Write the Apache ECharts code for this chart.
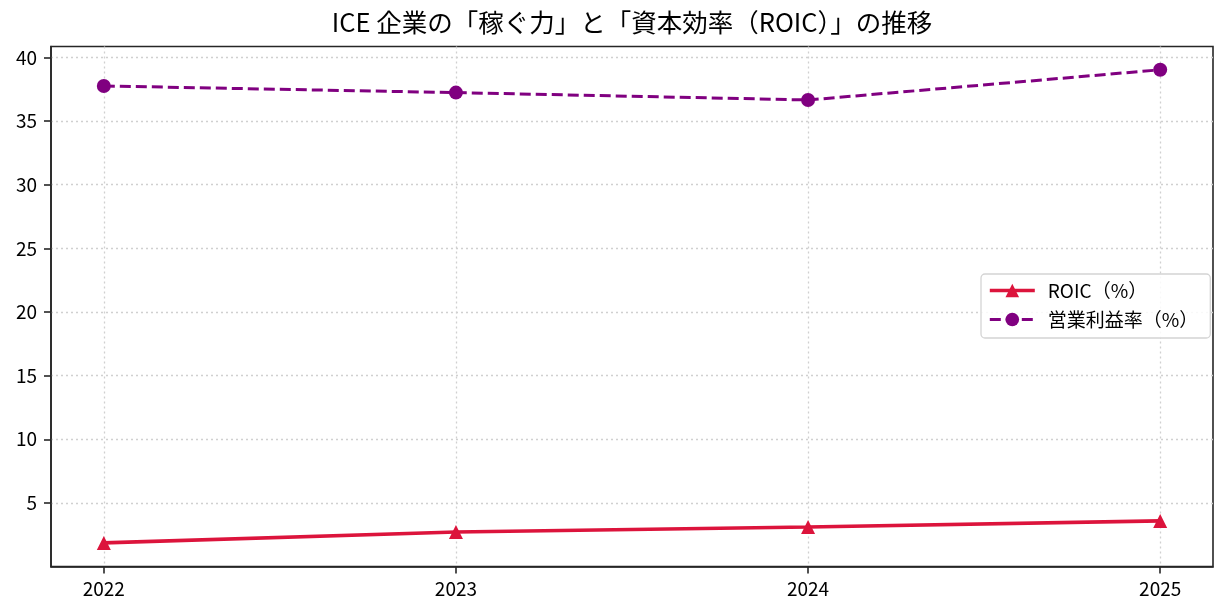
<!DOCTYPE html>
<html>
<head>
<meta charset="utf-8">
<script src="https://cdn.jsdelivr.net/npm/echarts@6/dist/echarts.min.js"></script>
<style>
  html, body { margin: 0; padding: 0; background: #fff; }
  #chart { width: 1228px; height: 616px; }
</style>
</head>
<body>
<div id="chart"></div>
<script>
// 年度
var years = [2022, 2023, 2024, 2025]
// ROIC（%）
var roic = [1.86, 2.72, 3.11, 3.59]
// 営業利益率（%）
var opMargin = [37.75, 37.23, 36.65, 39.02]
// 縦軸の目盛
var yTicks = [5, 10, 15, 20, 25, 30, 35, 40]

var font = '"Noto Sans CJK JP", "Noto Sans", sans-serif'
var frameColor = '#262626'
var roicColor = '#DC143C'
var marginColor = '#800080'

function pairs (xs, ys) {
  return xs.map(function (x, i) { return [x, ys[i]] })
}

var myChart = echarts.init(document.getElementById('chart'))

var option = {
  backgroundColor: '#fff',
  animation: false,
  title: {
    text: 'ICE 企業の「稼ぐ力」と「資本効率（ROIC）」の推移',
    left: 632,
    textAlign: 'center',
    top: 10,
    padding: 0,
    textStyle: {
      fontFamily: font,
      fontSize: 25.5,
      fontWeight: 'normal',
      color: '#000'
    }
  },
  grid: {
    left: 51,
    right: 15,
    top: 46.5,
    bottom: 49.4,
    show: true,
    borderColor: frameColor,
    borderWidth: 1.6,
    backgroundColor: 'transparent'
  },
  legend: {
    orient: 'vertical',
    left: 981,
    top: 274,
    padding: [5, 12, 7, 7],
    itemGap: 6,
    itemWidth: 45,
    itemHeight: 17,
    backgroundColor: 'rgba(255,255,255,0.85)',
    borderColor: '#d4d4d4',
    borderWidth: 1.3,
    borderRadius: 4,
    textStyle: {
      fontFamily: font,
      fontSize: 19,
      lineHeight: 23,
      color: '#000',
      padding: [0, 0, 0, 8]
    },
    data: [
      { name: 'ROIC（%）', lineStyle: { width: 3.6, color: roicColor } },
      { name: '営業利益率（%）', lineStyle: { width: 3, color: marginColor, type: [11, 5] } }
    ]
  },
  xAxis: {
    type: 'value',
    min: 2021.85,
    max: 2025.15,
    axisLine: { show: true, lineStyle: { color: frameColor, width: 1.6 } },
    axisTick: {
      show: true,
      length: 7,
      customValues: years,
      lineStyle: { color: frameColor, width: 1.6 }
    },
    axisLabel: {
      customValues: years,
      margin: 13,
      fontFamily: font,
      fontSize: 19,
      color: '#000',
      formatter: function (v) { return String(v) }
    },
    splitLine: {
      show: true,
      lineStyle: { color: '#d0d0d0', width: 1.3, type: [2, 3] }
    }
  },
  yAxis: {
    type: 'value',
    min: 0,
    max: 40.85,
    axisLine: { show: true, lineStyle: { color: frameColor, width: 1.6 } },
    axisTick: {
      show: true,
      length: 7,
      customValues: yTicks,
      lineStyle: { color: frameColor, width: 1.6 }
    },
    axisLabel: {
      customValues: yTicks,
      margin: 14,
      fontFamily: font,
      fontSize: 19,
      color: '#000'
    },
    splitLine: {
      show: true,
      lineStyle: { color: '#d0d0d0', width: 1.3, type: [2, 3] }
    }
  },
  series: [
    {
      name: 'ROIC（%）',
      type: 'line',
      data: pairs(years, roic),
      symbol: 'triangle',
      symbolSize: 14,
      lineStyle: { color: roicColor, width: 3.6 },
      itemStyle: { color: roicColor },
      z: 3
    },
    {
      name: '営業利益率（%）',
      type: 'line',
      data: pairs(years, opMargin),
      symbol: 'circle',
      symbolSize: 14,
      lineStyle: { color: marginColor, width: 3, type: [11, 5] },
      itemStyle: { color: marginColor },
      z: 3
    }
  ]
}

myChart.setOption(option)
</script>
</body>
</html>
